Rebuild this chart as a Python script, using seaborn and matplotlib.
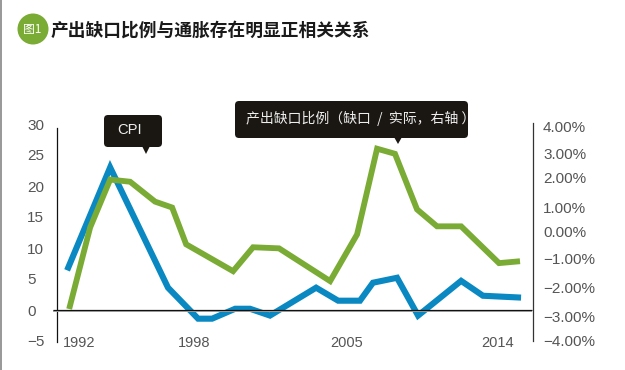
"""
Output gap ratio vs CPI, dual-axis line chart.
"""

import matplotlib
matplotlib.use("Agg")
import matplotlib.pyplot as plt
from matplotlib.patches import Circle, FancyBboxPatch, Polygon, Rectangle
import seaborn as sns

TITLE = "产出缺口比例与通胀存在明显正相关关系"
BADGE = "图1"
CPI_LABEL = "CPI"
GAP_LABEL = "产出缺口比例（缺口  /  实际，右轴 ）"

# Values (vertices are not evenly spaced in the original)
cpi_years = [1992.0, 1994.09, 1996.9, 1998.36, 1999.04, 2000.16, 2000.88, 2001.85,
             2004.09, 2005.16, 2006.22, 2006.85, 2008.02, 2009.04, 2011.13, 2012.19, 2014.04]
cpi_values = [6.4, 23.0, 3.6, -1.4, -1.4, 0.2, 0.2, -0.9,
              3.6, 1.5, 1.5, 4.4, 5.2, -0.9, 4.7, 2.3, 2.0]

gap_years = [1992.1, 1993.12, 1994.09, 1995.06, 1996.27, 1997.1, 1997.78, 2000.06, 2001.03,
             2002.29, 2004.77, 2006.08, 2007.05, 2007.92, 2008.99, 2009.96, 2011.13, 2012.97, 2013.99]
gap_values = [-2.78, 0.26, 2.04, 1.96, 1.22, 1.0, -0.37, -1.37, -0.48,
              -0.52, -1.74, 0.0, 3.19, 3.0, 0.93, 0.3, 0.3, -1.07, -1.0]

left_ticks = [30, 25, 20, 15, 10, 5, 0, -5]
left_labels = ["30", "25", "20", "15", "10", "5", "0", "−5"]

# The printed right-axis labels are not quite evenly spaced
right_tick_pos = [4.0, 3.0, 2.11, 1.0, 0.11, -0.89, -1.96, -3.04, -3.97]
right_labels = ["4.00%", "3.00%", "2.00%", "1.00%", "0.00%", "−1.00%", "−2.00%", "−3.00%", "−4.00%"]

year_tick_pos = [1992.58, 1998.17, 2005.59, 2012.9]
year_labels = ["1992", "1998", "2005", "2014"]

GREEN = "#7aab35"
BLUE = "#0a88c2"
DARK = "#1a1712"
TEXT = "#555555"
LATIN = ["Liberation Sans", "DejaVu Sans"]
CJK = ["Noto Sans CJK SC", "DejaVu Sans"]

W, H = 625, 370

sns.set_theme(style="white")
plt.rcParams["font.family"] = LATIN

fig = plt.figure(figsize=(W / 100, H / 100), dpi=100, facecolor="white")
ax = fig.add_axes([57 / W, 1 - 341 / H, (533 - 57) / W, (341 - 124) / H])
ax2 = ax.twinx()

sns.lineplot(x=cpi_years, y=cpi_values, ax=ax, color=BLUE, linewidth=4.4,
             solid_joinstyle="miter", solid_capstyle="butt", errorbar=None, sort=False)
sns.lineplot(x=gap_years, y=gap_values, ax=ax2, color=GREEN, linewidth=4.2,
             solid_joinstyle="miter", solid_capstyle="butt", errorbar=None, sort=False)

ax.set_xlim(1991.51, 2014.62)
ax.set_ylim(-5, 30)
ax2.set_ylim(-3.93, 4.11)

# zero line, black on a thin grey shadow
ax.hlines(-0.1, 1991.3, 2014.55, color="#aaaaaa", linewidth=1.4, clip_on=False, zorder=5)
ax.hlines(0, 1991.3, 2014.55, color="#111111", linewidth=0.9, clip_on=False, zorder=6)

for a in (ax, ax2):
    a.patch.set_alpha(0)
    a.grid(False)
    for side in ("top", "bottom"):
        a.spines[side].set_visible(False)

ax.spines["right"].set_visible(False)
ax2.spines["left"].set_visible(False)
ax.spines["left"].set_color("#111111")
ax.spines["left"].set_linewidth(0.9)
ax.spines["left"].set_bounds(-5.1, 29.4)
ax2.spines["right"].set_color("#333333")
ax2.spines["right"].set_linewidth(0.9)
ax2.spines["right"].set_bounds(-3.96, 4.15)

ax.set_yticks(left_ticks, left_labels)
ax2.set_yticks(right_tick_pos, right_labels)
ax.set_xticks(year_tick_pos, year_labels)
ax.tick_params(axis="y", length=0, pad=21.6, labelsize=11, labelcolor=TEXT)
ax2.tick_params(axis="y", length=0, pad=7.2, labelsize=11, labelcolor=TEXT)
ax.tick_params(axis="x", length=0, pad=-3.6, labelsize=10.5, labelcolor=TEXT)
for lab in ax.get_yticklabels():
    lab.set_horizontalalignment("left")

# overlay in pixel coordinates for the title block and callouts
over = fig.add_axes([0, 0, 1, 1], zorder=10)
over.set_xlim(0, W)
over.set_ylim(H, 0)
over.axis("off")

over.add_patch(Rectangle((0, 0), 2.3, H, color="#9a9a9a", lw=0))
over.add_patch(Circle((33, 29), 15.5, color=GREEN, lw=0))
over.text(32, 29.5, BADGE, color="white", fontsize=8.5, family=CJK, ha="center", va="center")
over.text(51, 31, TITLE, color="#1a1a1a", fontsize=12.75, fontweight="bold", family=CJK,
          ha="left", va="center")


def callout(x0, y0, x1, y1, tail_x, tail_y):
    over.add_patch(FancyBboxPatch((x0 + 3, y0 + 3), x1 - x0 - 6, y1 - y0 - 6,
                                  boxstyle="round,pad=3,rounding_size=4",
                                  facecolor=DARK, edgecolor="none"))
    over.add_patch(Polygon([(tail_x - 4, y1 - 1), (tail_x + 4, y1 - 1), (tail_x, tail_y)],
                           facecolor=DARK, edgecolor="none"))


callout(104, 115, 162, 147, 146, 154)
callout(235, 101, 468, 138, 398, 144)
over.text(117.5, 130, CPI_LABEL, color="#eeeeee", fontsize=10.6, family=LATIN, ha="left", va="center")
over.text(246, 118, GAP_LABEL, color="#eeeeee", fontsize=10, family=CJK, ha="left", va="center")

fig.savefig("out.png", dpi=100)
plt.close(fig)
